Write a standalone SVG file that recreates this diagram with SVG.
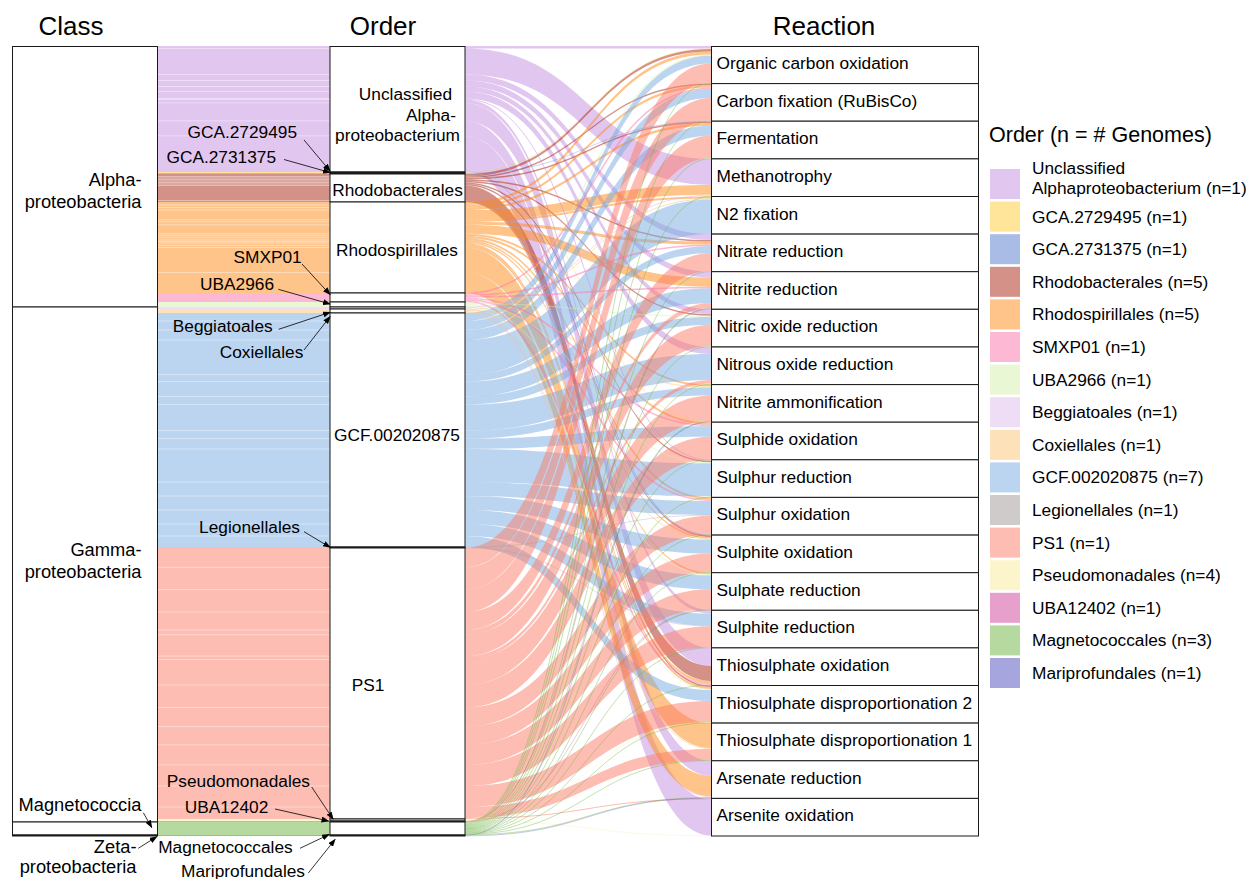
<svg xmlns="http://www.w3.org/2000/svg" width="1249" height="879" viewBox="0 0 1249 879">
<style>
text{font-family:"Liberation Sans",Arial,Helvetica,sans-serif;fill:#000}
.tt{font-size:26px}
.lb{font-size:17.3px}
.cl{font-size:18.3px}
.lg{font-size:21.5px}
.box{fill:#fff;stroke:#1a1a1a;stroke-width:1}
.f path{fill-opacity:.5;stroke:none}
.ln path{fill:none;stroke-opacity:.5}
.ar{stroke:#000;stroke-width:.8;fill:none;marker-end:url(#ah)}
.u{fill:#C38DDF;stroke:#C38DDF}
.g1{fill:#FDCB35;stroke:#FDCB35}
.g2{fill:#5379CD;stroke:#5379CD}
.rb{fill:#A92311;stroke:#A92311}
.rs{fill:#FD8915;stroke:#FD8915}
.sm{fill:#FB73A9;stroke:#FB73A9}
.ub{fill:#D5EFA9;stroke:#D5EFA9}
.be{fill:#DDBBEB;stroke:#DDBBEB}
.co{fill:#FBC371;stroke:#FBC371}
.gcf{fill:#77ABE1;stroke:#77ABE1}
.le{fill:#9F9797;stroke:#9F9797}
.ps{fill:#FB7B65;stroke:#FB7B65}
.pm{fill:#F9EB99;stroke:#F9EB99}
.u12{fill:#CF4197;stroke:#CF4197}
.mg{fill:#6BB33F;stroke:#6BB33F}
.mp{fill:#4F4BBD;stroke:#4F4BBD}
</style>
<defs>
<marker id="ah" markerWidth="8" markerHeight="6" refX="7" refY="3" orient="auto" markerUnits="userSpaceOnUse"><path d="M0 0L8 3L0 6Z" fill="#000"/></marker>
</defs>
<rect width="1249" height="879" fill="#fff"/>

<g id="titles">
<text class="tt" x="71" y="35" text-anchor="middle">Class</text>
<text class="tt" x="383" y="35" text-anchor="middle">Order</text>
<text class="tt" x="824" y="35" text-anchor="middle">Reaction</text>
</g>

<g id="class-order-flows">
<rect x="157" y="46" width="173" height="126" fill="#E1C6EF"/>
<rect x="157" y="172" width="173" height="1" fill="#FEE59A"/>
<rect x="157" y="173" width="173" height="1" fill="#A9BCE6"/>
<rect x="157" y="174" width="173" height="28" fill="#D49188"/>
<rect x="157" y="202" width="173" height="91" fill="#FEC48A"/>
<rect x="157" y="293" width="173" height="9" fill="#FDB9D4"/>
<rect x="157" y="302" width="173" height="5" fill="#EAF7D4"/>
<rect x="157" y="307" width="173" height="2" fill="#EEDDF5"/>
<rect x="157" y="309" width="173" height="4" fill="#FDE1B8"/>
<rect x="157" y="313" width="173" height="234" fill="#BBD5F0"/>
<rect x="157" y="547" width="173" height="1" fill="#CFCBCB"/>
<rect x="157" y="548" width="173" height="271" fill="#FDBDB2"/>
<rect x="157" y="819" width="173" height="2" fill="#FCF5CC"/>
<rect x="157" y="821" width="173" height="1" fill="#E7A0CB"/>
<rect x="157" y="822" width="173" height="13" fill="#B5D99F"/>
<rect x="157" y="835" width="173" height="1" fill="#A7A5DE"/>
<path d="M157 48.5H330M157 74.5H330M157 80.5H330M157 86.5H330M157 91.5H330M157 98.5H330M157 99.5H330M157 102.9H330M157 120.9H330M157 135.9H330M157 176.5H330M157 178H330M157 179.5H330M157 181H330M157 182.5H330M157 184H330M157 185.5H330M157 200.5H330M157 205H330M157 207.5H330M157 210H330M157 219.8H330M157 221.8H330M157 224.8H330M157 233.8H330M157 235.8H330M157 237.9H330M157 240H330M157 241.5H330M157 243H330M157 245.5H330M157 247.5H330M157 272.5H330M157 321H330M157 330H330M157 340H330M157 374.6H330M157 381.6H330M157 396.6H330M157 404.6H330M157 430.6H330M157 438.6H330M157 449H330M157 482H330M157 496H330M157 510H330M157 524H330M157 536H330M157 567.3H330M157 589.6H330M157 612H330M157 630H330M157 634.8H330M157 656.1H330M157 659.6H330M157 685H330M157 707.5H330M157 726.5H330M157 744.8H330M157 764.9H330M157 786H330M157 807H330" stroke="#fff" stroke-opacity=".5" stroke-width=".8" fill="none"/>
</g>

<g id="connectors">
<g class="f">
<path class="u" d="M465 46H711V48.5H465Z"/>
<path class="u" d="M465 48.5C588 48.5 588 158.9 711 158.9V184.9C588 184.9 588 74.5 465 74.5Z"/>
<path class="u" d="M465 74.5C588 74.5 588 234.1 711 234.1V240.1C588 240.1 588 80.5 465 80.5Z"/>
<path class="u" d="M465 80.5C588 80.5 588 271.7 711 271.7V277.7C588 277.7 588 86.5 465 86.5Z"/>
<path class="u" d="M465 86.5C588 86.5 588 309.3 711 309.3V314.3C588 314.3 588 91.5 465 91.5Z"/>
<path class="u" d="M465 91.5C588 91.5 588 347 711 347V354C588 354 588 98.5 465 98.5Z"/>
<path class="u" d="M465 99.5C588 99.5 588 610.3 711 610.3V613.7C588 613.7 588 102.9 465 102.9Z"/>
<path class="u" d="M465 102.9C588 102.9 588 647.9 711 647.9V665.9C588 665.9 588 120.9 465 120.9Z"/>
<path class="u" d="M465 120.9C588 120.9 588 760.8 711 760.8V775.8C588 775.8 588 135.9 465 135.9Z"/>
<path class="u" d="M465 135.9C588 135.9 588 799.4 711 799.4V835.5C588 835.5 588 172 465 172Z"/>
<path class="rb" d="M465 174C588 174 588 49 711 49V51.5C588 51.5 588 176.5 465 176.5Z"/>
<path class="rb" d="M465 176.5C588 176.5 588 83.6 711 83.6V85.1C588 85.1 588 178 465 178Z"/>
<path class="rb" d="M465 178C588 178 588 121.7 711 121.7V123.2C588 123.2 588 179.5 465 179.5Z"/>
<path class="rb" d="M465 179.5C588 179.5 588 240.1 711 240.1V241.6C588 241.6 588 181 465 181Z"/>
<path class="rb" d="M465 181C588 181 588 314.3 711 314.3V315.8C588 315.8 588 182.5 465 182.5Z"/>
<path class="rb" d="M465 182.5C588 182.5 588 460.8 711 460.8V462.3C588 462.3 588 184 465 184Z"/>
<path class="rb" d="M465 184C588 184 588 535.6 711 535.6V537.1C588 537.1 588 185.5 465 185.5Z"/>
<path class="rb" d="M465 185.5C588 185.5 588 665.9 711 665.9V680.9C588 680.9 588 200.5 465 200.5Z"/>
<path class="rb" d="M465 200.5C588 200.5 588 685.5 711 685.5V687C588 687 588 202 465 202Z"/>
<path class="rs" d="M465 202C588 202 588 51.5 711 51.5V54.5C588 54.5 588 205 465 205Z"/>
<path class="rs" d="M465 205C588 205 588 85.1 711 85.1V87.6C588 87.6 588 207.5 465 207.5Z"/>
<path class="rs" d="M465 207.5C588 207.5 588 123.2 711 123.2V125.7C588 125.7 588 210 465 210Z"/>
<path class="rs" d="M465 210C588 210 588 184.9 711 184.9V194.7C588 194.7 588 219.8 465 219.8Z"/>
<path class="rs" d="M465 219.8C588 219.8 588 196.5 711 196.5V198.5C588 198.5 588 221.8 465 221.8Z"/>
<path class="rs" d="M465 221.8C588 221.8 588 241.6 711 241.6V244.6C588 244.6 588 224.8 465 224.8Z"/>
<path class="rs" d="M465 224.8C588 224.8 588 277.7 711 277.7V286.7C588 286.7 588 233.8 465 233.8Z"/>
<path class="rs" d="M465 233.8C588 233.8 588 384.6 711 384.6V386.6C588 386.6 588 235.8 465 235.8Z"/>
<path class="rs" d="M465 235.8C588 235.8 588 422.7 711 422.7V424.8C588 424.8 588 237.9 465 237.9Z"/>
<path class="rs" d="M465 237.9C588 237.9 588 497.4 711 497.4V499.5C588 499.5 588 240 465 240Z"/>
<path class="rs" d="M465 240C588 240 588 537.1 711 537.1V538.6C588 538.6 588 241.5 465 241.5Z"/>
<path class="rs" d="M465 241.5C588 241.5 588 572.7 711 572.7V574.2C588 574.2 588 243 465 243Z"/>
<path class="rs" d="M465 243C588 243 588 680.9 711 680.9V683.4C588 683.4 588 245.5 465 245.5Z"/>
<path class="rs" d="M465 245.5C588 245.5 588 687 711 687V689C588 689 588 247.5 465 247.5Z"/>
<path class="rs" d="M465 247.5C588 247.5 588 723.1 711 723.1V748.1C588 748.1 588 272.5 465 272.5Z"/>
<path class="rs" d="M465 272.5C588 272.5 588 775.8 711 775.8V796.3C588 796.3 588 293 465 293Z"/>
<path class="gcf" d="M465 313C588 313 588 55.5 711 55.5V63.5C588 63.5 588 321 465 321Z"/>
<path class="gcf" d="M465 321C588 321 588 89.1 711 89.1V98.1C588 98.1 588 330 465 330Z"/>
<path class="gcf" d="M465 330C588 330 588 125.7 711 125.7V135.7C588 135.7 588 340 465 340Z"/>
<path class="gcf" d="M465 340C588 340 588 199.5 711 199.5V234.1C588 234.1 588 374.6 465 374.6Z"/>
<path class="gcf" d="M465 374.6C588 374.6 588 246.1 711 246.1V253.1C588 253.1 588 381.6 465 381.6Z"/>
<path class="gcf" d="M465 381.6C588 381.6 588 288.2 711 288.2V303.2C588 303.2 588 396.6 465 396.6Z"/>
<path class="gcf" d="M465 396.6C588 396.6 588 316.8 711 316.8V324.8C588 324.8 588 404.6 465 404.6Z"/>
<path class="gcf" d="M465 404.6C588 404.6 588 354 711 354V380C588 380 588 430.6 465 430.6Z"/>
<path class="gcf" d="M465 430.6C588 430.6 588 387.6 711 387.6V395.6C588 395.6 588 438.6 465 438.6Z"/>
<path class="gcf" d="M465 438.6C588 438.6 588 426.3 711 426.3V436.7C588 436.7 588 449 465 449Z"/>
<path class="gcf" d="M465 449C588 449 588 463.3 711 463.3V496.3C588 496.3 588 482 465 482Z"/>
<path class="gcf" d="M465 482C588 482 588 501 711 501V515C588 515 588 496 465 496Z"/>
<path class="gcf" d="M465 496C588 496 588 539.6 711 539.6V553.6C588 553.6 588 510 465 510Z"/>
<path class="gcf" d="M465 510C588 510 588 575.2 711 575.2V589.2C588 589.2 588 524 465 524Z"/>
<path class="gcf" d="M465 524C588 524 588 613.7 711 613.7V625.7C588 625.7 588 536 465 536Z"/>
<path class="gcf" d="M465 536C588 536 588 690 711 690V701C588 701 588 547 465 547Z"/>
<path class="ps" d="M465 548C588 548 588 63.5 711 63.5V82.8C588 82.8 588 567.3 465 567.3Z"/>
<path class="ps" d="M465 567.3C588 567.3 588 98.1 711 98.1V120.4C588 120.4 588 589.6 465 589.6Z"/>
<path class="ps" d="M465 589.6C588 589.6 588 135.7 711 135.7V158.1C588 158.1 588 612 465 612Z"/>
<path class="ps" d="M465 612C588 612 588 253.1 711 253.1V271.1C588 271.1 588 630 465 630Z"/>
<path class="ps" d="M465 630C588 630 588 303.2 711 303.2V308C588 308 588 634.8 465 634.8Z"/>
<path class="ps" d="M465 634.8C588 634.8 588 324.8 711 324.8V346.1C588 346.1 588 656.1 465 656.1Z"/>
<path class="ps" d="M465 656.1C588 656.1 588 380 711 380V383.5C588 383.5 588 659.6 465 659.6Z"/>
<path class="ps" d="M465 659.6C588 659.6 588 395.6 711 395.6V420.9C588 420.9 588 685 465 685Z"/>
<path class="ps" d="M465 685C588 685 588 436.7 711 436.7V459.2C588 459.2 588 707.5 465 707.5Z"/>
<path class="ps" d="M465 707.5C588 707.5 588 515.5 711 515.5V534.5C588 534.5 588 726.5 465 726.5Z"/>
<path class="ps" d="M465 726.5C588 726.5 588 553.6 711 553.6V571.9C588 571.9 588 744.8 465 744.8Z"/>
<path class="ps" d="M465 744.8C588 744.8 588 589.2 711 589.2V609.2C588 609.2 588 764.9 465 764.9Z"/>
<path class="ps" d="M465 764.9C588 764.9 588 626.2 711 626.2V647.3C588 647.3 588 786 465 786Z"/>
<path class="ps" d="M465 786C588 786 588 701 711 701V722C588 722 588 807 465 807Z"/>
<path class="ps" d="M465 807C588 807 588 749.1 711 749.1V760.2C588 760.2 588 818 465 818Z"/>
</g>
<g class="ln">
<path class="u" stroke-width="1" d="M465 99C588 99 588 460.3 711 460.3"/>
<path class="ps" stroke-width="1" d="M465 818.5C588 818.5 588 798.9 711 798.9"/>
<path class="g1" stroke-width=".6" d="M465 172.25C588 172.25 588 48.75 711 48.75"/>
<path class="g1" stroke-width=".6" d="M465 172.75C588 172.75 588 422.45 711 422.45"/>
<path class="g2" stroke-width=".6" d="M465 173.25C588 173.25 588 121.45 711 121.45"/>
<path class="g2" stroke-width=".6" d="M465 173.75C588 173.75 588 535.35 711 535.35"/>
<path class="sm" stroke-width="1.5" d="M465 293.75C588 293.75 588 88.35 711 88.35"/>
<path class="sm" stroke-width="1.5" d="M465 295.25C588 295.25 588 245.35 711 245.35"/>
<path class="sm" stroke-width="1.5" d="M465 296.75C588 296.75 588 287.45 711 287.45"/>
<path class="sm" stroke-width="1.5" d="M465 298.25C588 298.25 588 425.55 711 425.55"/>
<path class="sm" stroke-width="1.5" d="M465 299.75C588 299.75 588 500.25 711 500.25"/>
<path class="sm" stroke-width="1.5" d="M465 301.25C588 301.25 588 684.15 711 684.15"/>
<path class="ub" stroke-width="1" d="M465 302.5C588 302.5 588 55 711 55"/>
<path class="ub" stroke-width="1" d="M465 303.5C588 303.5 588 316.3 711 316.3"/>
<path class="ub" stroke-width="1" d="M465 304.5C588 304.5 588 462.8 711 462.8"/>
<path class="ub" stroke-width="1" d="M465 305.5C588 305.5 588 574.7 711 574.7"/>
<path class="ub" stroke-width="1" d="M465 306.5C588 306.5 588 689.5 711 689.5"/>
<path class="be" stroke-width="1" d="M465 307.5C588 307.5 588 195.2 711 195.2"/>
<path class="be" stroke-width="1" d="M465 308.5C588 308.5 588 796.8 711 796.8"/>
<path class="co" stroke-width="1" d="M465 309.5C588 309.5 588 199 711 199"/>
<path class="co" stroke-width="1" d="M465 310.5C588 310.5 588 387.1 711 387.1"/>
<path class="co" stroke-width="1" d="M465 311.5C588 311.5 588 539.1 711 539.1"/>
<path class="co" stroke-width="1" d="M465 312.5C588 312.5 588 748.6 711 748.6"/>
<path class="le" stroke-width=".6" d="M465 547.25C588 547.25 588 515.25 711 515.25"/>
<path class="le" stroke-width=".6" d="M465 547.75C588 547.75 588 625.95 711 625.95"/>
<path class="pm" stroke-width=".6" d="M465 819.25C588 819.25 588 383.75 711 383.75"/>
<path class="pm" stroke-width=".6" d="M465 819.75C588 819.75 588 496.55 711 496.55"/>
<path class="pm" stroke-width=".6" d="M465 820.25C588 820.25 588 722.25 711 722.25"/>
<path class="pm" stroke-width=".6" d="M465 820.75C588 820.75 588 835.75 711 835.75"/>
<path class="u12" stroke-width=".6" d="M465 821.25C588 821.25 588 308.25 711 308.25"/>
<path class="u12" stroke-width=".6" d="M465 821.75C588 821.75 588 609.45 711 609.45"/>
<path class="mg" stroke-width=".8" d="M465 822.4C588 822.4 588 83.2 711 83.2"/>
<path class="mg" stroke-width=".8" d="M465 823.2C588 823.2 588 120.8 711 120.8"/>
<path class="mg" stroke-width=".8" d="M465 824C588 824 588 158.5 711 158.5"/>
<path class="mg" stroke-width=".8" d="M465 824.8C588 824.8 588 196.1 711 196.1"/>
<path class="mg" stroke-width=".8" d="M465 825.5C588 825.5 588 271.4 711 271.4"/>
<path class="mg" stroke-width=".8" d="M465 826.2C588 826.2 588 308.9 711 308.9"/>
<path class="mg" stroke-width=".8" d="M465 827C588 827 588 346.5 711 346.5"/>
<path class="mg" stroke-width=".8" d="M465 827.7C588 827.7 588 384.3 711 384.3"/>
<path class="mg" stroke-width=".8" d="M465 828.4C588 828.4 588 421.3 711 421.3"/>
<path class="mg" stroke-width=".8" d="M465 829.1C588 829.1 588 459.5 711 459.5"/>
<path class="mg" stroke-width=".8" d="M465 829.7C588 829.7 588 497.1 711 497.1"/>
<path class="mg" stroke-width=".8" d="M465 830.3C588 830.3 588 534.8 711 534.8"/>
<path class="mg" stroke-width=".8" d="M465 831C588 831 588 572.3 711 572.3"/>
<path class="mg" stroke-width=".8" d="M465 831.7C588 831.7 588 610 711 610"/>
<path class="mg" stroke-width=".8" d="M465 832.3C588 832.3 588 647.6 711 647.6"/>
<path class="mg" stroke-width=".8" d="M465 832.9C588 832.9 588 685.2 711 685.2"/>
<path class="mg" stroke-width=".8" d="M465 833.5C588 833.5 588 722.8 711 722.8"/>
<path class="mg" stroke-width=".8" d="M465 834.1C588 834.1 588 760.5 711 760.5"/>
<path class="mg" stroke-width=".8" d="M465 834.7C588 834.7 588 797.6 711 797.6"/>
<path class="mp" stroke-width=".6" d="M465 835.25C588 835.25 588 421.95 711 421.95"/>
<path class="mp" stroke-width=".6" d="M465 835.75C588 835.75 588 798.15 711 798.15"/>
</g>
</g>

<g id="class-strata">
<g id="class-alpha"><rect class="box" x="12.5" y="46.5" width="145" height="260.5"/><text class="cl" x="141.5" y="185.5" text-anchor="end">Alpha-</text><text class="cl" x="141.5" y="207.5" text-anchor="end">proteobacteria</text></g>
<g id="class-gamma"><rect class="box" x="12.5" y="307" width="145" height="515"/><text class="cl" x="141.5" y="556" text-anchor="end">Gamma-</text><text class="cl" x="141.5" y="578" text-anchor="end">proteobacteria</text></g>
<g id="class-magnetococcia"><rect class="box" x="12.5" y="822" width="145" height="13"/><text class="cl" x="141.5" y="811" text-anchor="end">Magnetococcia</text></g>
<g id="class-zeta"><rect class="box" x="12.5" y="835" width="145" height="1"/><text class="cl" x="136.5" y="852.7" text-anchor="end">Zeta-</text><text class="cl" x="136.5" y="873.3" text-anchor="end">proteobacteria</text></g>
</g>

<g id="order-strata">
<g id="order-unclassified"><rect class="box" x="330" y="46.5" width="135" height="125.5"/><text class="lb" x="452" y="100" text-anchor="end">Unclassified</text><text class="lb" x="456" y="120.5" text-anchor="end">Alpha-</text><text class="lb" x="460" y="141" text-anchor="end">proteobacterium</text></g>
<g id="order-gca2729495"><rect class="box" x="330" y="172" width="135" height="1"/></g>
<g id="order-gca2731375"><rect class="box" x="330" y="173" width="135" height="1"/></g>
<g id="order-rhodobacterales"><rect class="box" x="330" y="174" width="135" height="28"/><text class="lb" x="397.5" y="195.5" text-anchor="middle">Rhodobacterales</text></g>
<g id="order-rhodospirillales"><rect class="box" x="330" y="202" width="135" height="91"/><text class="lb" x="397" y="255.5" text-anchor="middle">Rhodospirillales</text></g>
<g id="order-smxp01"><rect class="box" x="330" y="293" width="135" height="9"/></g>
<g id="order-uba2966"><rect class="box" x="330" y="302" width="135" height="5"/></g>
<g id="order-beggiatoales"><rect class="box" x="330" y="307" width="135" height="2"/></g>
<g id="order-coxiellales"><rect class="box" x="330" y="309" width="135" height="4"/></g>
<g id="order-gcf"><rect class="box" x="330" y="313" width="135" height="234"/><text class="lb" x="397" y="441" text-anchor="middle">GCF.002020875</text></g>
<g id="order-legionellales"><rect class="box" x="330" y="547" width="135" height="1"/></g>
<g id="order-ps1"><rect class="box" x="330" y="548" width="135" height="271"/><text class="lb" x="368" y="691" text-anchor="middle">PS1</text></g>
<g id="order-pseudomonadales"><rect class="box" x="330" y="819" width="135" height="2"/></g>
<g id="order-uba12402"><rect class="box" x="330" y="821" width="135" height="1"/></g>
<g id="order-magnetococcales"><rect class="box" x="330" y="822" width="135" height="13"/></g>
<g id="order-mariprofundales"><rect class="box" x="330" y="835" width="135" height="1"/></g>
</g>

<g id="reaction-strata">
<g id="r0"><rect class="box" x="711.5" y="46.5" width="267" height="37.1"/><text class="lb" x="716.5" y="69">Organic carbon oxidation</text></g>
<g id="r1"><rect class="box" x="711.5" y="83.6" width="267" height="37.6"/><text class="lb" x="716.5" y="106.6">Carbon fixation (RuBisCo)</text></g>
<g id="r2"><rect class="box" x="711.5" y="121.2" width="267" height="37.7"/><text class="lb" x="716.5" y="144.2">Fermentation</text></g>
<g id="r3"><rect class="box" x="711.5" y="158.9" width="267" height="37.6"/><text class="lb" x="716.5" y="181.9">Methanotrophy</text></g>
<g id="r4"><rect class="box" x="711.5" y="196.5" width="267" height="37.6"/><text class="lb" x="716.5" y="219.5">N2 fixation</text></g>
<g id="r5"><rect class="box" x="711.5" y="234.1" width="267" height="37.6"/><text class="lb" x="716.5" y="257.1">Nitrate reduction</text></g>
<g id="r6"><rect class="box" x="711.5" y="271.7" width="267" height="37.6"/><text class="lb" x="716.5" y="294.7">Nitrite reduction</text></g>
<g id="r7"><rect class="box" x="711.5" y="309.3" width="267" height="37.7"/><text class="lb" x="716.5" y="332.3">Nitric oxide reduction</text></g>
<g id="r8"><rect class="box" x="711.5" y="347" width="267" height="37.6"/><text class="lb" x="716.5" y="370">Nitrous oxide reduction</text></g>
<g id="r9"><rect class="box" x="711.5" y="384.6" width="267" height="37.6"/><text class="lb" x="716.5" y="407.6">Nitrite ammonification</text></g>
<g id="r10"><rect class="box" x="711.5" y="422.2" width="267" height="37.6"/><text class="lb" x="716.5" y="445.2">Sulphide oxidation</text></g>
<g id="r11"><rect class="box" x="711.5" y="459.8" width="267" height="37.6"/><text class="lb" x="716.5" y="482.8">Sulphur reduction</text></g>
<g id="r12"><rect class="box" x="711.5" y="497.4" width="267" height="37.7"/><text class="lb" x="716.5" y="520.4">Sulphur oxidation</text></g>
<g id="r13"><rect class="box" x="711.5" y="535.1" width="267" height="37.6"/><text class="lb" x="716.5" y="558.1">Sulphite oxidation</text></g>
<g id="r14"><rect class="box" x="711.5" y="572.7" width="267" height="37.6"/><text class="lb" x="716.5" y="595.7">Sulphate reduction</text></g>
<g id="r15"><rect class="box" x="711.5" y="610.3" width="267" height="37.6"/><text class="lb" x="716.5" y="633.3">Sulphite reduction</text></g>
<g id="r16"><rect class="box" x="711.5" y="647.9" width="267" height="37.6"/><text class="lb" x="716.5" y="670.9">Thiosulphate oxidation</text></g>
<g id="r17"><rect class="box" x="711.5" y="685.5" width="267" height="37.6"/><text class="lb" x="716.5" y="708.5">Thiosulphate disproportionation 2</text></g>
<g id="r18"><rect class="box" x="711.5" y="723.1" width="267" height="37.7"/><text class="lb" x="716.5" y="746.1">Thiosulphate disproportionation 1</text></g>
<g id="r19"><rect class="box" x="711.5" y="760.8" width="267" height="37.6"/><text class="lb" x="716.5" y="783.8">Arsenate reduction</text></g>
<g id="r20"><rect class="box" x="711.5" y="798.4" width="267" height="37.6"/><text class="lb" x="716.5" y="821.4">Arsenite oxidation</text></g>
</g>

<g id="annotations">
<text class="lb" x="297" y="138.3" text-anchor="end">GCA.2729495</text>
<text class="lb" x="276" y="162.7" text-anchor="end">GCA.2731375</text>
<text class="lb" x="301.7" y="263.3" text-anchor="end">SMXP01</text>
<text class="lb" x="274" y="290" text-anchor="end">UBA2966</text>
<text class="lb" x="272.7" y="331.7" text-anchor="end">Beggiatoales</text>
<text class="lb" x="303.3" y="358.3" text-anchor="end">Coxiellales</text>
<text class="lb" x="300" y="533.3" text-anchor="end">Legionellales</text>
<text class="lb" x="310" y="786.7" text-anchor="end">Pseudomonadales</text>
<text class="lb" x="268.3" y="813.3" text-anchor="end">UBA12402</text>
<text class="lb" x="292.7" y="853.3" text-anchor="end">Magnetococcales</text>
<text class="lb" x="305" y="877" text-anchor="end">Mariprofundales</text>
<path class="ar" d="M304 140L330 171"/>
<path class="ar" d="M284 159.5L330 172.5"/>
<path class="ar" d="M302 264L330 294.5"/>
<path class="ar" d="M278.3 289.3L330 304"/>
<path class="ar" d="M278.7 329.3L330 312.3"/>
<path class="ar" d="M304 350L330 316.7"/>
<path class="ar" d="M304 531.7L330 547.3"/>
<path class="ar" d="M311.7 787L333 819"/>
<path class="ar" d="M275 809L328.5 821"/>
<path class="ar" d="M143.3 812.7L151.7 827.3"/>
<path class="ar" d="M138.3 848.3L156.7 836.7"/>
<path class="ar" d="M300 848.3L329 834.5"/>
<path class="ar" d="M308.3 873L335 839.5"/>
</g>

<g id="legend">
<text class="lg" x="989" y="142">Order (n = # Genomes)</text>
<rect x="990" y="169" width="30" height="30" fill="#E1C6EF"/><text class="lb" x="1032" y="173.5">Unclassified</text><text class="lb" x="1032" y="193.5">Alphaproteobacterium (n=1)</text>
<rect x="990" y="201.6" width="30" height="30" fill="#FEE59A"/><text class="lb" x="1032" y="222.6">GCA.2729495 (n=1)</text>
<rect x="990" y="234.2" width="30" height="30" fill="#A9BCE6"/><text class="lb" x="1032" y="255.2">GCA.2731375 (n=1)</text>
<rect x="990" y="266.8" width="30" height="30" fill="#D49188"/><text class="lb" x="1032" y="287.8">Rhodobacterales (n=5)</text>
<rect x="990" y="299.4" width="30" height="30" fill="#FEC48A"/><text class="lb" x="1032" y="320.4">Rhodospirillales (n=5)</text>
<rect x="990" y="332" width="30" height="30" fill="#FDB9D4"/><text class="lb" x="1032" y="353">SMXP01 (n=1)</text>
<rect x="990" y="364.6" width="30" height="30" fill="#EAF7D4"/><text class="lb" x="1032" y="385.6">UBA2966 (n=1)</text>
<rect x="990" y="397.2" width="30" height="30" fill="#EEDDF5"/><text class="lb" x="1032" y="418.2">Beggiatoales (n=1)</text>
<rect x="990" y="429.8" width="30" height="30" fill="#FDE1B8"/><text class="lb" x="1032" y="450.8">Coxiellales (n=1)</text>
<rect x="990" y="462.4" width="30" height="30" fill="#BBD5F0"/><text class="lb" x="1032" y="483.4">GCF.002020875 (n=7)</text>
<rect x="990" y="495" width="30" height="30" fill="#CFCBCB"/><text class="lb" x="1032" y="516">Legionellales (n=1)</text>
<rect x="990" y="527.6" width="30" height="30" fill="#FDBDB2"/><text class="lb" x="1032" y="548.6">PS1 (n=1)</text>
<rect x="990" y="560.2" width="30" height="30" fill="#FCF5CC"/><text class="lb" x="1032" y="581.2">Pseudomonadales (n=4)</text>
<rect x="990" y="592.8" width="30" height="30" fill="#E7A0CB"/><text class="lb" x="1032" y="613.8">UBA12402 (n=1)</text>
<rect x="990" y="625.4" width="30" height="30" fill="#B5D99F"/><text class="lb" x="1032" y="646.4">Magnetococcales (n=3)</text>
<rect x="990" y="658" width="30" height="30" fill="#A7A5DE"/><text class="lb" x="1032" y="679">Mariprofundales (n=1)</text>
</g>
</svg>
